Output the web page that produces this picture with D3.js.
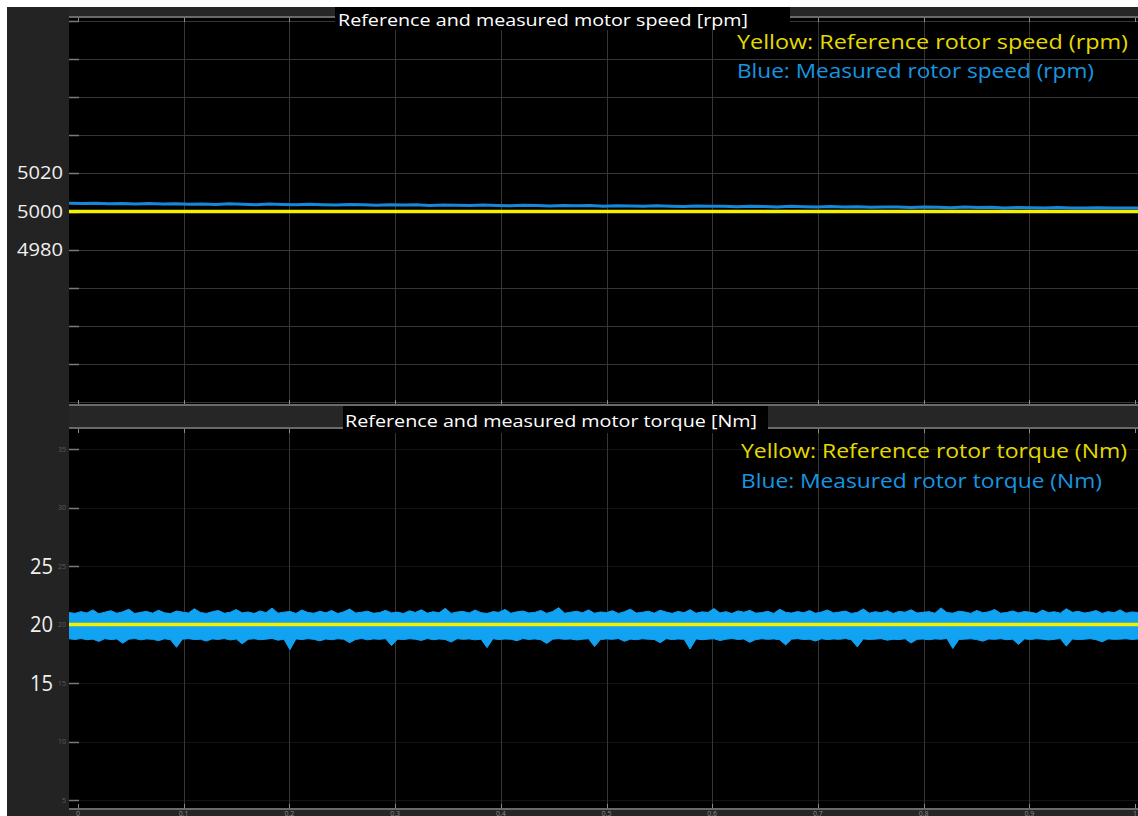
<!DOCTYPE html>
<html>
<head>
<meta charset="utf-8">
<title>Reference and measured motor speed / torque</title>
<script src="https://d3js.org/d3.v7.min.js"></script>
<style>
    html, body { margin: 0; padding: 0; background: #ffffff; }
    svg { display: block; }
    text { font-family: 'Open Sans', 'Noto Sans', sans-serif; }
</style>
</head>
<body>
<svg id="scope" width="1138" height="816"></svg>
<script>
/*
 * Data
 */
var TIME_TICKS = [0, 0.1, 0.2, 0.3, 0.4, 0.5, 0.6, 0.7, 0.8, 0.9, 1],
    TIME_LABELS = ['0', '0.1', '0.2', '0.3', '0.4', '0.5', '0.6', '0.7', '0.8', '0.9', '1'];

var SPEED_GRID = [4900, 4920, 4940, 4960, 4980, 5000, 5020, 5040, 5060, 5080, 5100],
    SPEED_LABELS = [4980, 5000, 5020];

var TORQUE_TICKS = [5, 10, 15, 20, 25, 30, 35],
    TORQUE_LABELS = [15, 20, 25];

var speedReference = [5000, 5000];

var speedMeasured = [
    5004.3, 5004.2, 5004.3, 5004.1, 5004.2, 5004.0, 5004.2, 5003.9, 5004.1, 5003.8,
    5004.0, 5003.7, 5004.1, 5003.8, 5003.6, 5003.9, 5003.7, 5003.5, 5003.8, 5003.6,
    5003.4, 5003.7, 5003.5, 5003.3, 5003.6, 5003.4, 5003.5, 5003.2, 5003.4, 5003.3,
    5003.1, 5003.4, 5003.2, 5003.0, 5003.3, 5003.1, 5002.9, 5003.2, 5003.0, 5003.1,
    5002.8, 5003.0, 5002.9, 5002.7, 5003.0, 5002.8, 5002.6, 5002.9, 5002.7, 5002.8,
    5002.5, 5002.7, 5002.6, 5002.4, 5002.7, 5002.5, 5002.3, 5002.6, 5002.4, 5002.5,
    5002.2, 5002.4, 5002.3, 5002.1, 5002.4, 5002.2, 5002.0, 5002.3, 5002.1, 5002.2,
    5001.9, 5002.1, 5002.0, 5001.8, 5002.1, 5001.9, 5001.8, 5002.0, 5001.9, 5001.8,
    5001.9
];

var torqueReference = [20, 20];

// upper / lower envelope of the noisy measured torque
var torqueUpper = [
    21.02, 20.95, 21.10, 20.98, 21.25, 20.92, 21.05, 21.18, 20.96, 21.08,
    21.30, 20.94, 21.04, 21.12, 20.97, 21.22, 21.00, 20.93, 21.15, 21.06,
    20.98, 21.35, 21.02, 20.95, 21.09, 21.20, 20.96, 21.04, 21.28, 20.99,
    21.07, 20.94, 21.16, 21.01, 21.40, 20.97, 21.05, 21.11, 20.95, 21.24,
    21.03, 20.96, 21.13, 21.00, 21.19, 20.94, 21.08, 21.32, 20.98, 21.05,
    21.14, 20.96, 21.02, 21.21, 20.99, 21.06, 20.93, 21.17, 21.03, 21.26,
    20.97, 21.09, 21.00, 21.38, 20.95, 21.07, 21.12, 20.98, 21.23, 21.01,
    20.94, 21.10, 21.04, 21.29, 20.96, 21.08, 21.15, 20.99, 21.03, 21.20,
    20.95, 21.11, 21.44, 20.97, 21.05, 21.13, 21.00, 21.25, 20.96, 21.07,
    21.02, 21.18, 20.94, 21.09, 21.31, 20.98, 21.04, 21.14, 20.97, 21.22,
    21.06, 20.95, 21.12, 21.01, 21.27, 20.96, 21.08, 21.03, 21.36, 20.99,
    21.10, 20.94, 21.16, 21.05, 21.21, 20.97, 21.02, 21.13, 20.95, 21.30,
    21.04, 20.98, 21.11, 21.00, 21.19, 20.96, 21.07, 21.24, 20.99, 21.06,
    21.15, 20.95, 21.03, 21.33, 20.97, 21.09, 21.01, 21.18, 20.94, 21.12,
    21.05, 21.26, 20.98, 21.04, 21.10, 20.96, 21.42, 21.02, 20.97, 21.14,
    21.07, 20.95, 21.20, 21.01, 21.08, 21.28, 20.96, 21.03, 21.16, 20.99,
    21.11, 21.05, 20.94, 21.23, 21.02, 21.09, 20.97, 21.35, 21.04, 21.13,
    20.98, 21.06, 21.19, 20.95, 21.10, 21.01, 21.25, 20.97, 21.07, 21.03
];

var torqueLower = [
    18.78, 18.72, 18.80, 18.70, 18.75, 18.55, 18.79, 18.71, 18.76, 18.40,
    18.74, 18.80, 18.69, 18.77, 18.73, 18.62, 18.78, 18.70, 18.05, 18.75,
    18.79, 18.71, 18.74, 18.58, 18.77, 18.72, 18.80, 18.68, 18.76, 18.35,
    18.73, 18.78, 18.70, 18.75, 18.81, 18.66, 18.74, 17.85, 18.77, 18.71,
    18.79, 18.73, 18.60, 18.76, 18.70, 18.78, 18.74, 18.45, 18.72, 18.80,
    18.69, 18.77, 18.73, 18.79, 18.20, 18.75, 18.71, 18.78, 18.74, 18.64,
    18.80, 18.70, 18.76, 18.72, 18.50, 18.79, 18.73, 18.77, 18.69, 18.75,
    18.02, 18.78, 18.71, 18.76, 18.74, 18.61, 18.80, 18.72, 18.77, 18.70,
    18.38, 18.75, 18.79, 18.73, 18.76, 18.68, 18.74, 18.78, 18.12, 18.71,
    18.77, 18.73, 18.80, 18.56, 18.75, 18.70, 18.78, 18.74, 18.72, 18.44,
    18.79, 18.71, 18.76, 18.73, 17.90, 18.77, 18.70, 18.75, 18.78, 18.63,
    18.74, 18.80, 18.72, 18.76, 18.48, 18.71, 18.78, 18.73, 18.77, 18.70,
    18.25, 18.75, 18.79, 18.72, 18.74, 18.59, 18.78, 18.71, 18.76, 18.73,
    18.80, 18.69, 18.08, 18.77, 18.72, 18.75, 18.79, 18.66, 18.74, 18.71,
    18.78, 18.42, 18.73, 18.76, 18.70, 18.77, 18.74, 18.80, 17.95, 18.72,
    18.75, 18.78, 18.71, 18.57, 18.76, 18.73, 18.79, 18.70, 18.74, 18.30,
    18.77, 18.72, 18.78, 18.75, 18.68, 18.73, 18.80, 18.15, 18.76, 18.71,
    18.74, 18.79, 18.70, 18.52, 18.77, 18.73, 18.75, 18.78, 18.72, 18.76
];

/*
 * Style / layout
 */
var W = 1138, H = 816,
    MARGIN = 7,
    PLOT_LEFT = 69,
    PLOT_RIGHT = 1138,
    PANEL_BG = '#232323',
    BAND_BG = '#262626',
    BORDER = '#6a6a6a',
    GRID = '#363636',
    YELLOW = '#f4f000',
    BLUE_SPEED = '#1688dc',
    BLUE_TORQUE = '#12a2f2',
    TEXT_YELLOW = '#e4da00',
    TEXT_BLUE = '#1796e0';

var TOP_PLOT = { y0: 17, y1: 405 },
    BOTTOM_PLOT = { y0: 428, y1: 809 };

var x = d3.scaleLinear().domain([0, 1]).range([78, 1135]);

var ySpeed = d3.scaleLinear().domain([4900, 5100]).range([402, 21]);
var yTorque = d3.scaleLinear().domain([5, 35]).range([800, 449]);

/**
 * time of sample i for a series of length n spanning the plot width
 */
function timeScale(n) {
    return d3.scaleLinear().domain([0, n - 1]).range([x.invert(PLOT_LEFT), x.invert(PLOT_RIGHT)]);
}

function addText(g, str, px, py, opts) {
    var t = g.append('text')
        .attr('x', px)
        .attr('y', py)
        .attr('font-size', opts.size)
        .attr('fill', opts.fill)
        .attr('text-anchor', opts.anchor || 'start')
        .text(str);
    if (opts.width) {
        t.attr('textLength', opts.width).attr('lengthAdjust', 'spacingAndGlyphs');
    }
    return t;
}

function drawFrame(svg) {
    svg.append('rect').attr('width', W).attr('height', H).attr('fill', '#ffffff');
    svg.append('rect')
        .attr('x', MARGIN).attr('y', MARGIN)
        .attr('width', W - MARGIN).attr('height', H - MARGIN)
        .attr('fill', PANEL_BG);

    // bands above / between / below the plots
    svg.append('rect').attr('x', PLOT_LEFT).attr('y', MARGIN)
        .attr('width', PLOT_RIGHT - PLOT_LEFT).attr('height', TOP_PLOT.y0 - MARGIN).attr('fill', BAND_BG);
    svg.append('rect').attr('x', PLOT_LEFT).attr('y', TOP_PLOT.y1)
        .attr('width', PLOT_RIGHT - PLOT_LEFT).attr('height', BOTTOM_PLOT.y0 - TOP_PLOT.y1).attr('fill', BAND_BG);
    svg.append('rect').attr('x', PLOT_LEFT).attr('y', BOTTOM_PLOT.y1)
        .attr('width', PLOT_RIGHT - PLOT_LEFT).attr('height', H - BOTTOM_PLOT.y1).attr('fill', BAND_BG);
}

/**
 * Draws one black plot area with its grid and edge ticks
 */
function drawPlotArea(svg, box, yScale, hGrid, leftTicks, gridColor, id) {
    var g = svg.append('g');

    g.append('rect')
        .attr('x', PLOT_LEFT).attr('y', box.y0)
        .attr('width', PLOT_RIGHT - PLOT_LEFT).attr('height', box.y1 - box.y0)
        .attr('fill', '#000000');

    svg.append('clipPath').attr('id', id)
        .append('rect')
        .attr('x', PLOT_LEFT).attr('y', box.y0)
        .attr('width', PLOT_RIGHT - PLOT_LEFT).attr('height', box.y1 - box.y0);

    // horizontal grid
    g.selectAll('.hgrid')
        .data(hGrid)
        .enter().append('line')
        .attr('x1', PLOT_LEFT).attr('x2', PLOT_RIGHT)
        .attr('y1', function (d) { return Math.round(yScale(d)) + 0.5; })
        .attr('y2', function (d) { return Math.round(yScale(d)) + 0.5; })
        .attr('stroke', gridColor);

    // vertical grid
    g.selectAll('.vgrid')
        .data(TIME_TICKS.slice(1, -1))
        .enter().append('line')
        .attr('x1', function (d) { return Math.round(x(d)) + 0.5; })
        .attr('x2', function (d) { return Math.round(x(d)) + 0.5; })
        .attr('y1', box.y0).attr('y2', box.y1)
        .attr('stroke', GRID);

    // edge ticks top and bottom
    g.selectAll('.ttick')
        .data(TIME_TICKS)
        .enter().append('line')
        .attr('x1', function (d) { return Math.round(x(d)) + 0.5; })
        .attr('x2', function (d) { return Math.round(x(d)) + 0.5; })
        .attr('y1', box.y0).attr('y2', box.y0 + 5)
        .attr('stroke', '#8a8a8a');
    g.selectAll('.btick')
        .data(TIME_TICKS)
        .enter().append('line')
        .attr('x1', function (d) { return Math.round(x(d)) + 0.5; })
        .attr('x2', function (d) { return Math.round(x(d)) + 0.5; })
        .attr('y1', box.y1 - 5).attr('y2', box.y1)
        .attr('stroke', '#8a8a8a');

    // left edge ticks
    g.selectAll('.ltick')
        .data(leftTicks)
        .enter().append('line')
        .attr('x1', PLOT_LEFT).attr('x2', PLOT_LEFT + 10)
        .attr('y1', function (d) { return Math.round(yScale(d)) + 0.5; })
        .attr('y2', function (d) { return Math.round(yScale(d)) + 0.5; })
        .attr('stroke', '#7a7a7a')
        .attr('stroke-width', 1.5);

    // borders
    [box.y0, box.y1].forEach(function (yy) {
        g.append('line')
            .attr('x1', PLOT_LEFT).attr('x2', PLOT_RIGHT)
            .attr('y1', yy).attr('y2', yy)
            .attr('stroke', BORDER).attr('stroke-width', 2);
    });

    return g;
}

function drawTitle(svg, str, bx0, bx1, by0, by1, tx, ty, tw) {
    svg.append('rect')
        .attr('x', bx0).attr('y', by0)
        .attr('width', bx1 - bx0).attr('height', by1 - by0)
        .attr('fill', '#000000');
    addText(svg, str, tx, ty, { size: 17, fill: '#ffffff', width: tw });
}

function initSpeed(svg) {
    drawPlotArea(svg, TOP_PLOT, ySpeed, SPEED_GRID, SPEED_GRID.slice(1), GRID, 'clip-speed');
    var data = svg.append('g').attr('clip-path', 'url(#clip-speed)');

    var tRef = timeScale(speedReference.length),
        tMeas = timeScale(speedMeasured.length);

    data.append('path')
        .datum(speedReference)
        .attr('fill', 'none')
        .attr('stroke', YELLOW)
        .attr('stroke-width', 3.5)
        .attr('d', d3.line()
            .x(function (d, i) { return x(tRef(i)); })
            .y(function (d) { return ySpeed(d); }));

    data.append('path')
        .datum(speedMeasured)
        .attr('fill', 'none')
        .attr('stroke', BLUE_SPEED)
        .attr('stroke-width', 3)
        .attr('d', d3.line()
            .x(function (d, i) { return x(tMeas(i)); })
            .y(function (d) { return ySpeed(d); }));

    // big value labels
    SPEED_LABELS.forEach(function (v) {
        addText(svg, String(v), 63, ySpeed(v) + 6, { size: 19, fill: '#f0f0f0', anchor: 'end', width: 46 });
    });

    drawTitle(svg, 'Reference and measured motor speed [rpm]', 335, 790, MARGIN, 30, 338, 26, 410);

    addText(svg, 'Yellow: Reference rotor speed (rpm)', 737, 49, { size: 20, fill: TEXT_YELLOW, width: 391 });
    addText(svg, 'Blue: Measured rotor speed (rpm)', 737, 78, { size: 20, fill: TEXT_BLUE, width: 357 });
}

function initTorque(svg) {
    drawPlotArea(svg, BOTTOM_PLOT, yTorque, TORQUE_TICKS, TORQUE_TICKS, '#141414', 'clip-torque');
    var data = svg.append('g').attr('clip-path', 'url(#clip-torque)');

    var tBand = timeScale(torqueUpper.length),
        tRef = timeScale(torqueReference.length);

    data.append('path')
        .datum(torqueUpper)
        .attr('fill', BLUE_TORQUE)
        .attr('stroke', BLUE_TORQUE)
        .attr('stroke-width', 1)
        .attr('d', d3.area()
            .x(function (d, i) { return x(tBand(i)); })
            .y0(function (d, i) { return yTorque(torqueLower[i]); })
            .y1(function (d) { return yTorque(d); }));

    data.append('path')
        .datum(torqueReference)
        .attr('fill', 'none')
        .attr('stroke', YELLOW)
        .attr('stroke-width', 3.5)
        .attr('d', d3.line()
            .x(function (d, i) { return x(tRef(i)); })
            .y(function (d) { return yTorque(d); }));

    // small grey tick labels next to the plot
    TORQUE_TICKS.forEach(function (v) {
        addText(svg, String(v), 66, yTorque(v) + 2.5, { size: 7, fill: '#5c5c5c', anchor: 'end' });
    });

    // big value labels
    TORQUE_LABELS.forEach(function (v) {
        addText(svg, String(v), 53, yTorque(v) + 7.5, { size: 21, fill: '#f0f0f0', anchor: 'end', width: 23 });
    });

    drawTitle(svg, 'Reference and measured motor torque [Nm]', 343, 768, 406, 433, 345, 427, 412);

    addText(svg, 'Yellow: Reference rotor torque (Nm)', 741, 458, { size: 20, fill: TEXT_YELLOW, width: 386 });
    addText(svg, 'Blue: Measured rotor torque (Nm)', 741, 488, { size: 20, fill: TEXT_BLUE, width: 361 });

    // time labels under the lower plot
    TIME_TICKS.forEach(function (t, i) {
        addText(svg, TIME_LABELS[i], x(t), 815.5, { size: 7, fill: '#8a8a8a', anchor: 'middle' });
    });
}

(function () {
    var svg = d3.select('#scope');
    drawFrame(svg);
    initSpeed(svg);
    initTorque(svg);
})();
</script>
</body>
</html>
